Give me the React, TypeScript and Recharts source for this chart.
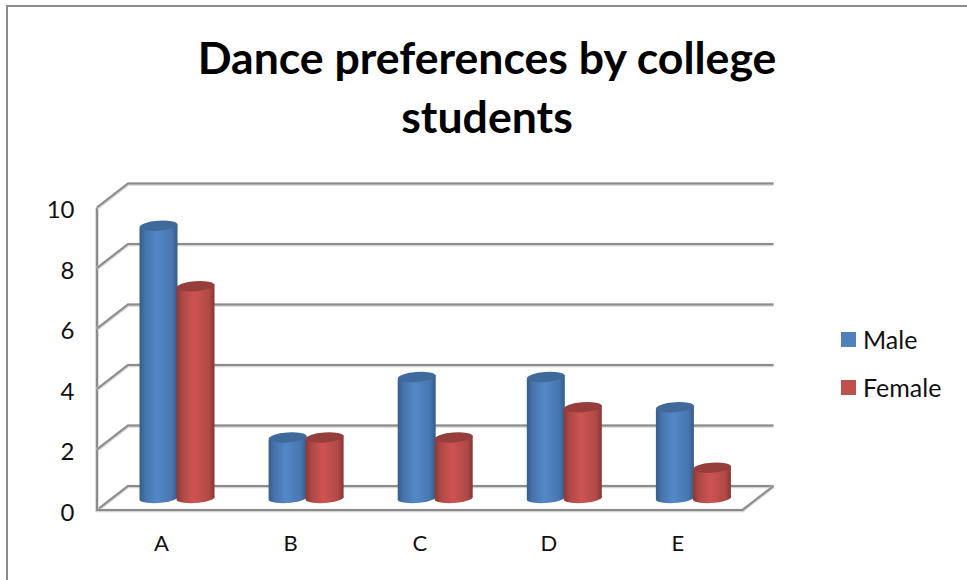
import { BarChart, Bar, XAxis, YAxis, CartesianGrid, Legend } from 'recharts';

const categories = ['A', 'B', 'C', 'D', 'E'];
const male = [9, 2, 4, 4, 3];
const female = [7, 2, 2, 3, 1];
const yTicks = [0, 2, 4, 6, 8, 10];

const chartData = categories.map((name, i) => ({ name, male: male[i], female: female[i] }));

const font = 'Lato, sans-serif';
const gridColor = '#8c8c8c';
// half of the wall depth, the bars stand in the middle of the floor
const depthX = 15.5;
const depthY = 12;

function GridLine(props: any) {
  const { x1, x2, y1, y, height, index } = props;
  const isFloor = y1 >= y + height - 0.5;
  const wall = `${x1 - depthX},${y1 + depthY} ${x1 + depthX},${y1 - depthY} ${x2 + depthX},${y1 - depthY}`;
  const floor = `${x1 - depthX},${y + depthY} ${x1 - depthX},${y1 + depthY} ${x2 - depthX},${y1 + depthY} ${x2 + depthX},${y1 - depthY}`;
  return (
    <g key={index} fill="none">
      <polyline points={wall} stroke="#d4d4d4" strokeWidth={3.5} transform="translate(0 0.5)" />
      <polyline points={wall} stroke={gridColor} strokeWidth={2} />
      {isFloor && <polyline points={floor} stroke="#d4d4d4" strokeWidth={3.5} transform="translate(0 0.5)" />}
      {isFloor && <polyline points={floor} stroke={gridColor} strokeWidth={2} />}
    </g>
  );
}

function Cylinder(props: any) {
  const { x, y, width, height, gradient, top } = props;
  const rx = width / 2;
  const ry = 5;
  const tilt = 2;
  const bottom = y + height;
  const body = `M${x},${y + tilt} L${x},${bottom + tilt} A${rx},${ry} -4 0 0 ${x + width},${bottom - tilt} L${x + width},${y - tilt} Z`;
  return (
    <g>
      <path d={body} fill={`url(#${gradient})`} />
      <ellipse
        cx={x + rx}
        cy={y}
        rx={rx}
        ry={ry}
        fill={top}
        transform={`rotate(-4 ${x + rx} ${y})`}
      />
    </g>
  );
}

function YTick({ x, y, payload }: any) {
  return (
    <text x={x - 30} y={y + 12} dy={10.5} textAnchor="end" fontFamily={font} fontSize={24} fill="#111">
      {payload.value}
    </text>
  );
}

function XTick({ x, y, payload }: any) {
  return (
    <text x={x - depthX} y={y + 45} textAnchor="middle" fontFamily={font} fontSize={22} fill="#111">
      {payload.value}
    </text>
  );
}

function LegendBox({ payload }: any) {
  return (
    <div style={{ fontFamily: font, fontSize: 25, color: '#111' }}>
      {payload.map((item: any) => (
        <div key={item.value} style={{ display: 'flex', alignItems: 'center', height: 48 }}>
          <span style={{ width: 15, height: 15, background: item.color, marginRight: 7 }} />
          {item.value}
        </div>
      ))}
    </div>
  );
}

export default function App() {
  return (
    <div style={{ position: 'absolute', left: 0, top: 0, width: 967, height: 580, overflow: 'hidden', background: '#fff' }}>
      <div style={{ position: 'absolute', left: 6, top: 5, right: -4, bottom: -4, border: '2px solid #8c8c8c' }} />
      <div
        style={{
          position: 'absolute',
          left: 6,
          width: 962,
          top: 26.5,
          textAlign: 'center',
          fontFamily: font,
          fontWeight: 700,
          fontSize: 44.6,
          lineHeight: '59px',
          color: '#000',
        }}
      >
        Dance preferences by college
        <br />
        students
      </div>
      <div style={{ position: 'absolute', left: 0, top: 0 }}>
        <BarChart
          width={967}
          height={580}
          data={chartData}
          margin={{ top: 195.5, right: 209, bottom: 52, left: 52.5 }}
          barGap={-1}
          barSize={38}
        >
          <defs>
            <linearGradient id="maleBody" x1="0" y1="0" x2="1" y2="0">
              <stop offset="0%" stopColor="#355d8c" />
              <stop offset="15%" stopColor="#4673aa" />
              <stop offset="45%" stopColor="#5388c8" />
              <stop offset="85%" stopColor="#4875ae" />
              <stop offset="100%" stopColor="#345a87" />
            </linearGradient>
            <linearGradient id="femaleBody" x1="0" y1="0" x2="1" y2="0">
              <stop offset="0%" stopColor="#8c3836" />
              <stop offset="15%" stopColor="#ad4846" />
              <stop offset="45%" stopColor="#cd5452" />
              <stop offset="85%" stopColor="#b04947" />
              <stop offset="100%" stopColor="#853533" />
            </linearGradient>
          </defs>
          <CartesianGrid horizontal={(props: any) => <GridLine {...props} />} vertical={false} />
          <XAxis dataKey="name" axisLine={false} tickLine={false} height={30} tick={<XTick />} interval={0} />
          <YAxis
            domain={[0, 10]}
            ticks={yTicks}
            width={60}
            axisLine={false}
            tickLine={false}
            tick={<YTick />}
            interval={0}
          />
          <Legend
            layout="vertical"
            align="center"
            verticalAlign="middle"
            wrapperStyle={{ left: 841, top: 315, width: 120 }}
            itemSorter={null}
            content={<LegendBox />}
          />
          <Bar
            dataKey="male"
            name="Male"
            fill="#4f81bd"
            isAnimationActive={false}
            shape={(props: any) => <Cylinder {...props} gradient="maleBody" top="#3f6a9b" />}
          />
          <Bar
            dataKey="female"
            name="Female"
            fill="#c0504d"
            isAnimationActive={false}
            shape={(props: any) => <Cylinder {...props} gradient="femaleBody" top="#963e3c" />}
          />
        </BarChart>
      </div>
    </div>
  );
}
